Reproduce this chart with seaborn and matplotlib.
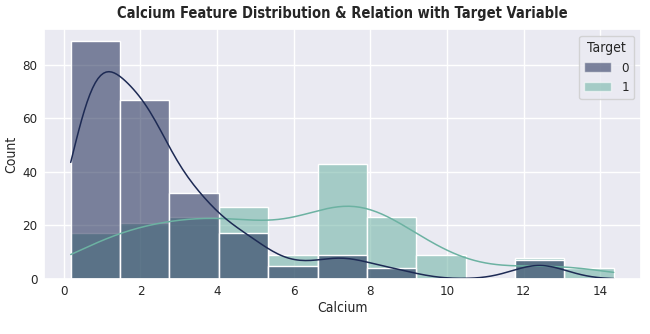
import numpy as np
import pandas as pd
import seaborn as sns
import matplotlib.pyplot as plt
from matplotlib.patches import Patch

# ---- data (counts per bin) ----
calcium_bin_centers = [0.83, 2.11, 3.40, 4.69, 5.97, 7.26, 8.55, 9.83, 11.12, 12.41, 13.70]
count_target_0 = [89, 67, 32, 17, 5, 9, 4, 0, 0, 7, 0]
count_target_1 = [17, 21, 23, 27, 9, 43, 23, 9, 0, 8, 4]
target_labels = [0, 1]
bin_range = (0.18, 14.35)
n_bins = 11

target_colors = ["#1d2a54", "#6cb2a2"]
kde_bw = [0.32, 0.55]

sns.set_theme(style="darkgrid")
plt.rcParams['font.family'] = ['DejaVu Sans']
plt.rcParams['font.stretch'] = 'condensed'

counts = [count_target_0, count_target_1]

fig, ax = plt.subplots(figsize=(6.5, 3.34), dpi=100)
# seaborn layers hue levels in reverse order: draw target 1 first, then 0
for i in [1, 0]:
    sub = pd.DataFrame({"Calcium": calcium_bin_centers, "n": counts[i]})
    sns.histplot(data=sub, x="Calcium", weights="n",
                 bins=n_bins, binrange=bin_range, kde=True,
                 kde_kws={"bw_adjust": kde_bw[i], "cut": 3, "clip": bin_range},
                 line_kws={"linewidth": 1.1},
                 color=target_colors[i], alpha=0.55,
                 edgecolor="white", linewidth=1, ax=ax)

handles = [Patch(facecolor=target_colors[i], alpha=0.55, edgecolor="white")
           for i in range(2)]
ax.legend(handles, [str(t) for t in target_labels], title="Target",
          loc="upper right", fontsize=9.5, title_fontsize=10)

ax.set_title("Calcium Feature Distribution & Relation with Target Variable",
             fontsize=10.5, fontweight="heavy", pad=8)
ax.set_xlabel("Calcium", fontsize=10, labelpad=2)
ax.set_ylabel("Count", fontsize=10, labelpad=3)
ax.tick_params(labelsize=9.5, length=0, pad=4.5)

fig.subplots_adjust(left=0.067, right=0.986, top=0.913, bottom=0.165)
fig.savefig("out.png", dpi=100)
